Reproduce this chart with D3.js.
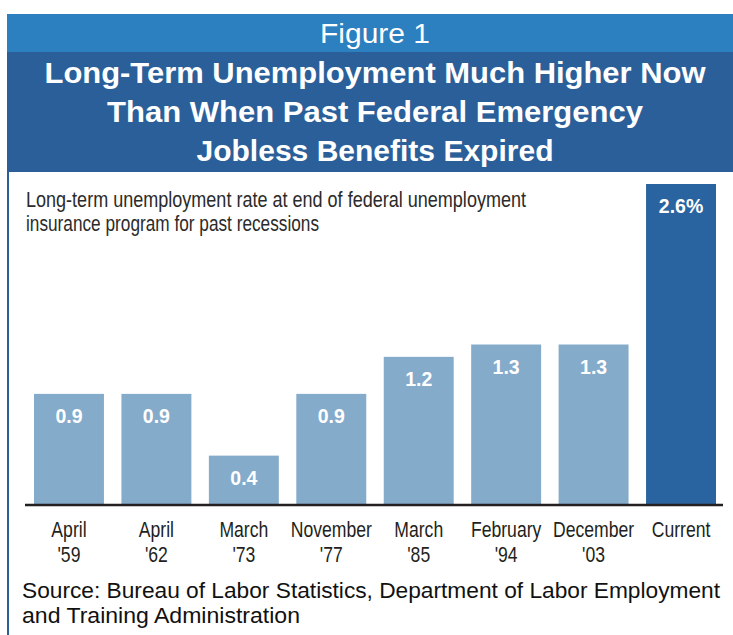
<!DOCTYPE html>
<html>
<head>
<meta charset="utf-8">
<script src="https://cdn.jsdelivr.net/npm/d3@7"></script>
<style>
  html, body { margin: 0; padding: 0; background: #fff; }
  svg { display: block; }
</style>
</head>
<body>
<script>
// ---- data ----
const categories = ["April '59", "April '62", "March '73", "November '77", "March '85", "February '94", "December '03", "Current"];
const labelLine1 = ["April", "April", "March", "November", "March", "February", "December", "Current"];
const labelLine2 = ["'59", "'62", "'73", "'77", "'85", "'94", "'03", ""];
const values = [0.9, 0.9, 0.4, 0.9, 1.2, 1.3, 1.3, 2.6];
const valueLabels = ["0.9", "0.9", "0.4", "0.9", "1.2", "1.3", "1.3", "2.6%"];
const highlight = ["Current"];

const figureLabel = "Figure 1";
const titleLines = ["Long-Term Unemployment Much Higher Now", "Than When Past Federal Emergency", "Jobless Benefits Expired"];
const subtitleLines = ["Long-term unemployment rate at end of federal unemployment", "insurance program for past recessions"];
const sourceLines = ["Source: Bureau of Labor Statistics, Department of Labor Employment", "and Training Administration"];

// ---- layout ----
const W = 733, H = 635;
const font = "'Liberation Sans', Arial, sans-serif";
const svg = d3.select("body").append("svg").attr("width", W).attr("height", H);

svg.append("rect").attr("x", 0).attr("y", 0).attr("width", W).attr("height", H).attr("fill", "#fff");

// header bands
svg.append("rect").attr("x", 7).attr("y", 14).attr("width", W - 7).attr("height", 38).attr("fill", "#2c80c0");
svg.append("rect").attr("x", 7).attr("y", 52).attr("width", W - 7).attr("height", 120).attr("fill", "#2a5f9a");
// left border
svg.append("line").attr("x1", 8).attr("x2", 8).attr("y1", 172).attr("y2", H)
  .attr("stroke", "#2a5f9a").attr("stroke-width", 2);

function fitText(sel, len) {
  sel.attr("textLength", len).attr("lengthAdjust", "spacingAndGlyphs");
}
function condense(sel, k) {
  sel.each(function () {
    const n = this.getComputedTextLength();
    if (n > 0) d3.select(this).attr("textLength", n * k).attr("lengthAdjust", "spacingAndGlyphs");
  });
}

svg.append("text").attr("x", 375).attr("y", 43).attr("text-anchor", "middle")
  .attr("fill", "#fff").attr("font-family", font).attr("font-size", 27)
  .text(figureLabel).call(fitText, 110);

const titleBase = [83, 122, 161];
const titleWidths = [661, 536, 357];
titleLines.forEach((t, i) => {
  svg.append("text").attr("x", 375).attr("y", titleBase[i]).attr("text-anchor", "middle")
    .attr("fill", "#fff").attr("font-family", font).attr("font-weight", "bold").attr("font-size", 30)
    .text(t).call(fitText, titleWidths[i]);
});

// subtitle
const subBase = [207, 231];
const subWidths = [500, 293];
subtitleLines.forEach((t, i) => {
  svg.append("text").attr("x", 26).attr("y", subBase[i])
    .attr("fill", "#2b2b2b").attr("font-family", font).attr("font-size", 21.5)
    .text(t).call(fitText, subWidths[i]);
});

// scales
const x = d3.scaleBand().domain(categories).range([34, 716]).paddingInner(0.2).paddingOuter(0);
const y = d3.scaleLinear().domain([0, 2.6]).range([505, 184]);

// bars
svg.append("g").selectAll("rect").data(categories).join("rect")
  .attr("x", d => x(d))
  .attr("width", x.bandwidth())
  .attr("y", (d, i) => y(values[i]))
  .attr("height", (d, i) => y(0) - y(values[i]))
  .attr("fill", d => highlight.includes(d) ? "#2a64a0" : "#85abcb");

// value labels
svg.append("g").selectAll("text").data(categories).join("text")
  .attr("x", d => x(d) + x.bandwidth() / 2)
  .attr("y", (d, i) => y(values[i]) + 29)
  .attr("text-anchor", "middle")
  .attr("fill", "#fff").attr("font-family", font).attr("font-weight", "bold").attr("font-size", 20.5)
  .text((d, i) => valueLabels[i])
  .call(condense, 0.95);

// axis
const axis = svg.append("g").attr("transform", `translate(0,${y(0)})`)
  .call(d3.axisBottom(x).tickSize(0).tickFormat(""));
axis.select(".domain").attr("d", "M25,0H723").attr("stroke", "#231f20").attr("stroke-width", 2.5);

// category labels
const lab = svg.append("g").selectAll("text").data(categories).join("text")
  .attr("x", d => x(d) + x.bandwidth() / 2)
  .attr("text-anchor", "middle")
  .attr("fill", "#231f20").attr("font-family", font).attr("font-size", 22);
const t1 = lab.append("tspan").attr("x", d => x(d) + x.bandwidth() / 2).attr("y", 537).text((d, i) => labelLine1[i]);
const t2 = lab.append("tspan").attr("x", d => x(d) + x.bandwidth() / 2).attr("y", 562).text((d, i) => labelLine2[i]);
t1.call(condense, 0.8);
t2.call(condense, 0.8);

// source
const srcBase = [598, 623];
const srcWidths = [698, 278];
sourceLines.forEach((t, i) => {
  svg.append("text").attr("x", 22).attr("y", srcBase[i])
    .attr("fill", "#111").attr("font-family", font).attr("font-size", 21.5)
    .text(t).call(fitText, srcWidths[i]);
});
</script>
</body>
</html>
